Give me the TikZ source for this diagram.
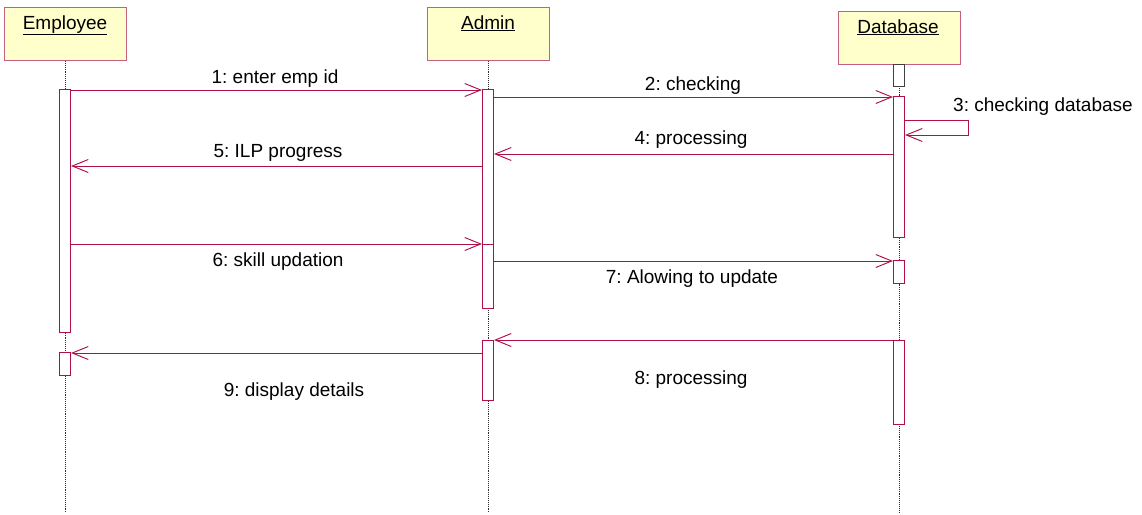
\documentclass[tikz,border=0pt]{standalone}
\usepackage{fontspec}
\setmainfont{Liberation Sans}
\usetikzlibrary{arrows.meta}
\definecolor{msgred}{HTML}{B0104A}
\definecolor{headborder}{HTML}{C46080}
\definecolor{headfill}{HTML}{FFFFCC}
\definecolor{lifegray}{HTML}{303030}
\frenchspacing
\begin{document}
\begin{tikzpicture}[x=1pt,y=-1pt,
  font=\fontsize{19}{22}\selectfont,
  head/.style={draw=headborder, fill=headfill, line width=1pt,
    minimum width=122pt, minimum height=53pt, inner sep=0pt, anchor=north west},
  headtext/.style={anchor=base, inner sep=0pt},
  lifeline/.style={draw=lifegray, densely dotted, line width=0.9pt},
  act/.style={draw=msgred, fill=white, line width=1pt, minimum width=11pt,
    inner sep=0pt, anchor=north},
  actdark/.style={act, draw=black!75},
  msg/.style={draw=msgred, line width=0.95pt,
    -{Straight Barb[length=16pt,width=13pt,line width=0.95pt]}},
  lbl/.style={anchor=base, inner sep=0pt}]
\useasboundingbox (0,0) rectangle (1142,514);

% participant heads
\node[head] (emp) at (4,7) {};
\node[head] (adm) at (427,7) {};
\node[head] (db) at (838,11) {};
\node[headtext] (empT) at (65,29) {\underline{Employee}};
\node[headtext] (admT) at (488,29) {\underline{Admin}};
\node[headtext] (dbT) at (898,33) {\underline{Database}};

% lifeline ends
\coordinate (empEnd) at (65,513);
\coordinate (admEnd) at (488,513);
\coordinate (dbEnd) at (899,513);
\draw[lifeline] (emp.south -| empEnd) -- (empEnd);
\draw[lifeline] (adm.south -| admEnd) -- (admEnd);
\draw[lifeline] (db.south -| dbEnd) -- (dbEnd);

% activation bars
\node[act, minimum height=243pt] (eA1) at (65,89) {};
\node[act, minimum height=23pt] (eA2) at (65,352) {};
\node[act, minimum height=155pt] (aA1) at (488,89) {};
\node[act, minimum height=64pt] (aA2) at (488,244) {};
\node[act, minimum height=60pt] (aA3) at (488,340) {};
\node[actdark, minimum height=22pt] (dA0) at (899,64) {};
\node[act, minimum height=141pt] (dA1) at (899,96) {};
\node[act, minimum height=23pt] (dA2) at (899,260) {};
\node[act, minimum height=84pt] (dA3) at (899,340) {};

% message rows
\coordinate (y1) at (0,90);
\coordinate (y2) at (0,97);
\coordinate (y3a) at (968,120);
\coordinate (y3b) at (968,135);
\coordinate (y4) at (0,154);
\coordinate (y5) at (0,166);
\coordinate (y6) at (0,244);
\coordinate (y7) at (0,261);
\coordinate (y8) at (0,340);
\coordinate (y9) at (0,353);

% messages
\draw[msg] (eA1.east |- y1) -- (aA1.west |- y1);
\draw[msg] (aA1.east |- y2) -- (dA1.west |- y2);
\draw[msg] (dA1.east |- y3a) -- (y3a) -- (y3b) -- (dA1.east |- y3b);
\draw[msg] (dA1.west |- y4) -- (aA1.east |- y4);
\draw[msg] (aA1.west |- y5) -- (eA1.east |- y5);
\draw[msg] (eA1.east |- y6) -- (aA2.west |- y6);
\draw[msg] (aA2.east |- y7) -- (dA2.west |- y7);
\draw[msg] (dA3.west |- y8) -- (aA3.east |- y8);
\draw[msg] (aA3.west |- y9) -- (eA2.east |- y9);

% message labels
\node[lbl] (l1) at (275,83) {1: enter emp id};
\node[lbl] (l2) at (693,90) {2: checking};
\node[lbl, anchor=base west] (l3) at (953,111) {3: checking database};
\node[lbl] (l4) at (691,144) {4: processing};
\node[lbl] (l5) at (278,157) {5: ILP progress};
\node[lbl] (l6) at (278,266) {6: skill updation};
\node[lbl] (l7) at (692,283) {7: Alowing to update};
\node[lbl] (l8) at (691,384) {8: processing};
\node[lbl] (l9) at (294,396) {9: display details};
\end{tikzpicture}
\end{document}
